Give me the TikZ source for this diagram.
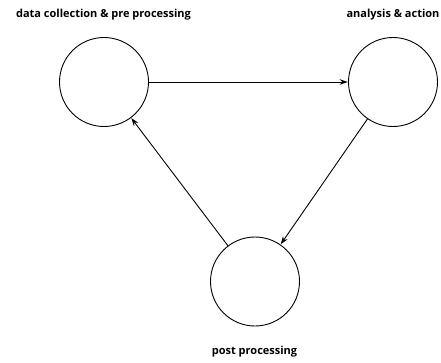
\documentclass[tikz,border=0pt]{standalone}
\usepackage{fontspec}
\setmainfont{Open Sans}
\usetikzlibrary{arrows.meta}
\begin{document}
\begin{tikzpicture}[x=1pt,y=-1pt,
  stage/.style={circle,draw,line width=0.9pt,minimum size=89pt,inner sep=0pt},
  label/.style={font=\fontsize{11}{13}\selectfont\bfseries,inner sep=0pt},
  flow/.style={line width=0.9pt,-{Stealth[length=8pt,width=5.5pt]},shorten >=0.3pt}]
  \useasboundingbox (0,0) rectangle (441,362);
  % the three stages of the cycle
  \node[stage] (collect) at (104,82) {};
  \node[stage] (analyse) at (393,82) {};
  \node[stage] (post) at (255,281.5) {};
  % stage captions
  \node[label] (tcollect) at (103.5,15) {data collection \& pre processing};
  \node[label] (tanalyse) at (393,15) {analysis \& action};
  \node[label] (tpost) at (254.5,352) {post processing};
  % connectors
  \draw[flow] (collect) -- (analyse);
  \draw[flow] (analyse) -- (post);
  \draw[flow] (post) -- (collect);
\end{tikzpicture}
\end{document}
